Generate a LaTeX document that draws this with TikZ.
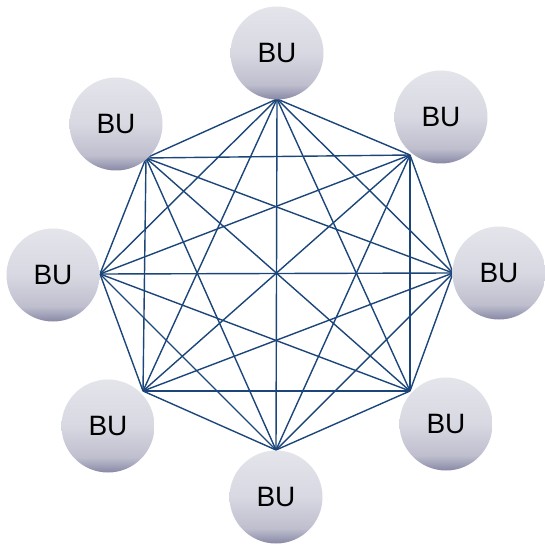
\documentclass[tikz,border=0pt]{standalone}
\usepackage{fontspec}
\setmainfont{Liberation Sans}
\definecolor{linkblue}{RGB}{28,70,122}
\definecolor{buTop}{RGB}{228,228,235}
\definecolor{buMid}{RGB}{216,216,226}
\definecolor{buLow}{RGB}{190,190,206}
\definecolor{buBot}{RGB}{136,136,166}
% light face that darkens towards the lower rim
\pgfdeclareverticalshading{buShade}{100bp}{
  color(0bp)=(buBot); color(25bp)=(buBot); color(33bp)=(buLow);
  color(50bp)=(buMid); color(75bp)=(buTop); color(100bp)=(buTop)}
\tikzset{
  bu/.style={circle, minimum size=93pt, inner sep=0pt,
    shading=buShade,
    font=\fontsize{28}{28}\selectfont},
  link/.style={draw=linkblue, line width=1.4pt}
}
\begin{document}
\begin{tikzpicture}[x=1pt,y=-1pt]
\useasboundingbox (0,0) rectangle (544,545);
% attachment points of the full mesh
\coordinate (v1) at (277,99);
\coordinate (v2) at (410,155);
\coordinate (v3) at (453,273);
\coordinate (v4) at (410,391);
\coordinate (v5) at (276,450);
\coordinate (v6) at (143,391);
\coordinate (v7) at (100,274);
\coordinate (v8) at (146,158);
% every pair of units is linked
\foreach \i in {1,...,7}{
  \pgfmathtruncatemacro{\s}{\i+1}
  \foreach \j in {\s,...,8}{
    \draw[link] (v\i) -- (v\j);
  }
}
% the units
\node[bu] (b1) at (277,53) {BU};
\node[bu] (b2) at (441,117) {BU};
\node[bu] (b3) at (499,273) {BU};
\node[bu] (b4) at (446,424) {BU};
\node[bu] (b5) at (276,497) {BU};
\node[bu] (b6) at (108,426) {BU};
\node[bu] (b7) at (53,275) {BU};
\node[bu] (b8) at (116,124) {BU};
\end{tikzpicture}
\end{document}
